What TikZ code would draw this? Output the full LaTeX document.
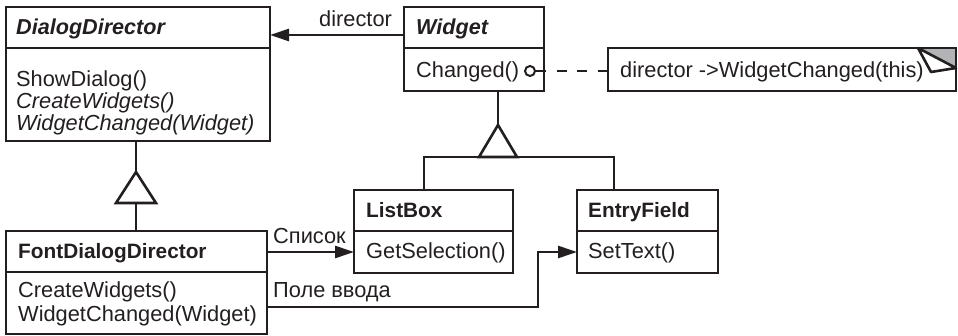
\documentclass[tikz,border=0pt]{standalone}
\usepackage{fontspec}
\setmainfont{Liberation Sans}
\usetikzlibrary{arrows.meta,calc}
\definecolor{ink}{HTML}{231F20}
\definecolor{foldgray}{HTML}{B1B3B6}
\newcommand\fs{\fontsize{21.8}{23}\selectfont}
\newcommand\fsb{\fontsize{20.8}{23}\selectfont}
\newcommand\fsbi{\fontsize{21.6}{23}\selectfont}
\begin{document}
\begin{tikzpicture}[x=1pt,y=-1pt,
 box/.style={draw=ink, line width=2.6pt, anchor=north west, inner sep=0pt, outer sep=0pt},
 txt/.style={anchor=base west, inner sep=0pt, font=\fs, text=ink},
 btxt/.style={txt, font=\fsb\bfseries},
 bitxt/.style={txt, font=\fsbi\bfseries\itshape},
 itxt/.style={txt, font=\fs\itshape},
 ln/.style={draw=ink, line width=2.6pt},
 arr/.style={ln, -{Triangle[length=19pt,width=12pt]}},
]
\useasboundingbox (0,0) rectangle (958,336);

% DialogDirector
\node[box, minimum width=264pt, minimum height=41pt] (dd) at (6,7) {};
\node[box, minimum width=264pt, minimum height=93pt] (ddb) at (6,48) {};
\node[bitxt] (ddn) at (16,35) {DialogDirector};
\node[txt] (dd1) at (16,87) {ShowDialog()};
\node[itxt] (dd2) at (16,109) {CreateWidgets()};
\node[itxt] (dd3) at (16,131) {WidgetChanged(Widget)};

% Widget
\node[box, minimum width=140pt, minimum height=41pt] (w) at (404,7) {};
\node[box, minimum width=140pt, minimum height=43pt] (wb) at (404,48) {};
\node[bitxt] (wn) at (416,35) {Widget};
\node[txt] (w1) at (416,78) {Changed()};
\node[circle, draw=ink, line width=2pt, minimum size=10pt, inner sep=0pt] (cc) at (530,71) {};

% Note
\node[box, minimum width=348pt, minimum height=43pt] (note) at (608,48) {};
\fill[foldgray] ($(note.north east)+(-38,0)$) -- (note.north east) -- ($(note.north east)+(0,20)$) -- cycle;
\draw[ln, fill=white, line join=round] ($(note.north east)+(-38,0)$) -- ($(note.north east)+(-25,24)$) -- ($(note.north east)+(0,20)$) -- cycle;
\draw[ln] (note.north west) rectangle (note.south east);
\node[txt] (nt) at (620,78) {director ->WidgetChanged(this)};

% ListBox
\node[box, minimum width=159pt, minimum height=41pt] (lb) at (354,190) {};
\node[box, minimum width=159pt, minimum height=42pt] (lbb) at (354,231) {};
\node[btxt] (lbn) at (366,218) {ListBox};
\node[txt] (lb1) at (366,259) {GetSelection()};

% EntryField
\node[box, minimum width=141pt, minimum height=41pt] (ef) at (577,190) {};
\node[box, minimum width=141pt, minimum height=42pt] (efb) at (577,231) {};
\node[btxt] (efn) at (588,218) {EntryField};
\node[txt] (ef1) at (588,259) {SetText()};

% FontDialogDirector
\node[box, minimum width=261pt, minimum height=41pt] (fdd) at (6,231) {};
\node[box, minimum width=261pt, minimum height=62pt] (fddb) at (6,272) {};
\node[btxt] (fddn) at (18,259) {FontDialogDirector};
\node[txt] (fdd1) at (18,298) {CreateWidgets()};
\node[txt] (fdd2) at (18,322) {WidgetChanged(Widget)};

% labels
\node[txt] (ldir) at (319,27) {director};
\node[txt] (lsp) at (273,244) {Список};
\node[txt] (lpv) at (273,298) {Поле ввода};

% director association
\coordinate (dA) at ([yshift=-7.5pt]w.west);
\draw[arr] (dA) -- (dA -| dd.east);

% dashed note link
\draw[ln, dash pattern=on 10pt off 10.5pt] (cc.east) -- (cc.east -| note.west);

% Widget inheritance
\coordinate (wt) at (498,125);
\coordinate (wbase) at (498,157);
\draw[ln] (wt) -- (wt |- wb.south);
\draw[ln, line join=miter] (wt) -- ++(-19,32) -- ++(38,0) -- cycle;
\coordinate (lbt) at ([xshift=-9.5pt]lb.north);
\coordinate (eft) at ([xshift=-33.5pt]ef.north);
\draw[ln] (lbt) -- (lbt |- wbase) -- (eft |- wbase) -- (eft);

% DialogDirector inheritance
\coordinate (dt) at (136,172);
\coordinate (dbase) at (136,203);
\draw[ln] (dt) -- (dt |- ddb.south);
\draw[ln, line join=miter] (dt) -- ++(-20,31) -- ++(40,0) -- cycle;
\draw[ln] (dbase) -- (dbase |- fdd.north);

% associations from FontDialogDirector
\draw[arr] (fdd.east |- lbb.west) -- (lbb.west);
\coordinate (pa) at ([yshift=-4pt]fddb.east);
\coordinate (bx) at (538,0);
\draw[arr] (pa) -- (pa -| bx) -- (bx |- efb.west) -- (efb.west);
\end{tikzpicture}
\end{document}
